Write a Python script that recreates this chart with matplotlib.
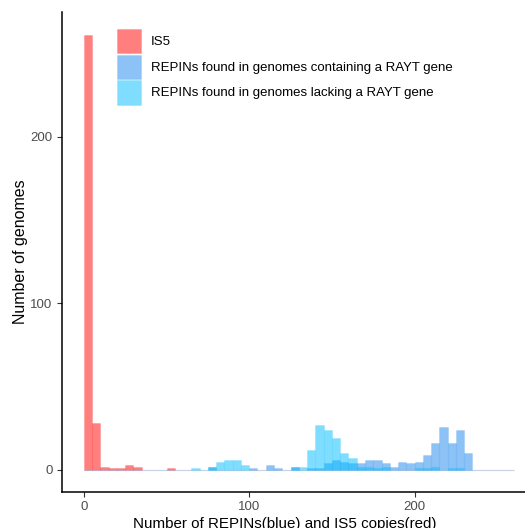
import numpy as np
import matplotlib.pyplot as plt
from matplotlib.colors import to_rgb

# bin left edges (binwidth 5)
bin_left = np.arange(0, 260, 5)

# counts per bin, keyed by bin left edge
is5_counts = {0: 261, 5: 28, 10: 2, 15: 1, 20: 1, 25: 3, 30: 2, 50: 1}
rayt_counts = {75: 2, 100: 1, 110: 3, 115: 1, 125: 2, 135: 1, 140: 1, 145: 4,
               150: 6, 155: 5, 160: 4, 165: 4, 170: 6, 175: 6, 180: 4, 185: 2,
               190: 5, 195: 4, 200: 5, 205: 9, 210: 16, 215: 26, 220: 16,
               225: 24, 230: 10}
norayt_counts = {65: 1, 75: 2, 80: 5, 85: 6, 90: 6, 95: 3, 125: 2, 130: 2,
                 135: 12, 140: 27, 145: 24, 150: 19, 155: 10, 160: 7, 165: 2,
                 170: 2, 175: 1, 180: 2, 200: 1, 205: 1, 210: 2, 220: 1, 225: 1}

labels = ["IS5",
          "REPINs found in genomes containing a RAYT gene",
          "REPINs found in genomes lacking a RAYT gene"]
colors = ["#FF0000", "#1C86EE", "#00BFFF"]

series = [is5_counts, rayt_counts, norayt_counts]

plt.rcParams['font.family'] = ['Liberation Sans', 'DejaVu Sans']

fig = plt.figure(figsize=(5.25, 5.28), dpi=100)
ax = fig.add_axes([0.1187, 0.0688, 0.901, 0.9085])

for counts, col, lab in zip(series, colors, labels):
    heights = [counts.get(int(b), 0) for b in bin_left]
    ax.bar(bin_left, heights, width=5, align='edge',
           facecolor=(*to_rgb(col), 0.5),
           edgecolor=(*to_rgb(col), 0.12),
           linewidth=0.8, label=lab)

ax.set_xlim(-13, 273)
ax.set_ylim(-13.1, 275.1)
ax.set_xticks([0, 100, 200])
ax.set_yticks([0, 100, 200])

for s in ["top", "right"]:
    ax.spines[s].set_visible(False)
for s in ["left", "bottom"]:
    ax.spines[s].set_linewidth(1.1)
    ax.spines[s].set_color("black")

ax.tick_params(axis="both", colors="#333333", labelcolor="#4D4D4D",
               labelsize=9.5, length=3.5, width=0.8)

ax.set_xlabel("Number of REPINs(blue) and IS5 copies(red)", fontsize=10.9)
ax.xaxis.set_label_coords(0.471, -0.053)
ax.set_ylabel("Number of genomes", fontsize=11.5, labelpad=2)

leg = ax.legend(loc="upper left", bbox_to_anchor=(0.1156, 0.965), frameon=False,
                prop={'size': 9.5},
                handlelength=1.85, handleheight=2.47, handletextpad=0.7,
                labelspacing=0.1, borderaxespad=0, borderpad=0)

fig.savefig("out.png", dpi=100)
